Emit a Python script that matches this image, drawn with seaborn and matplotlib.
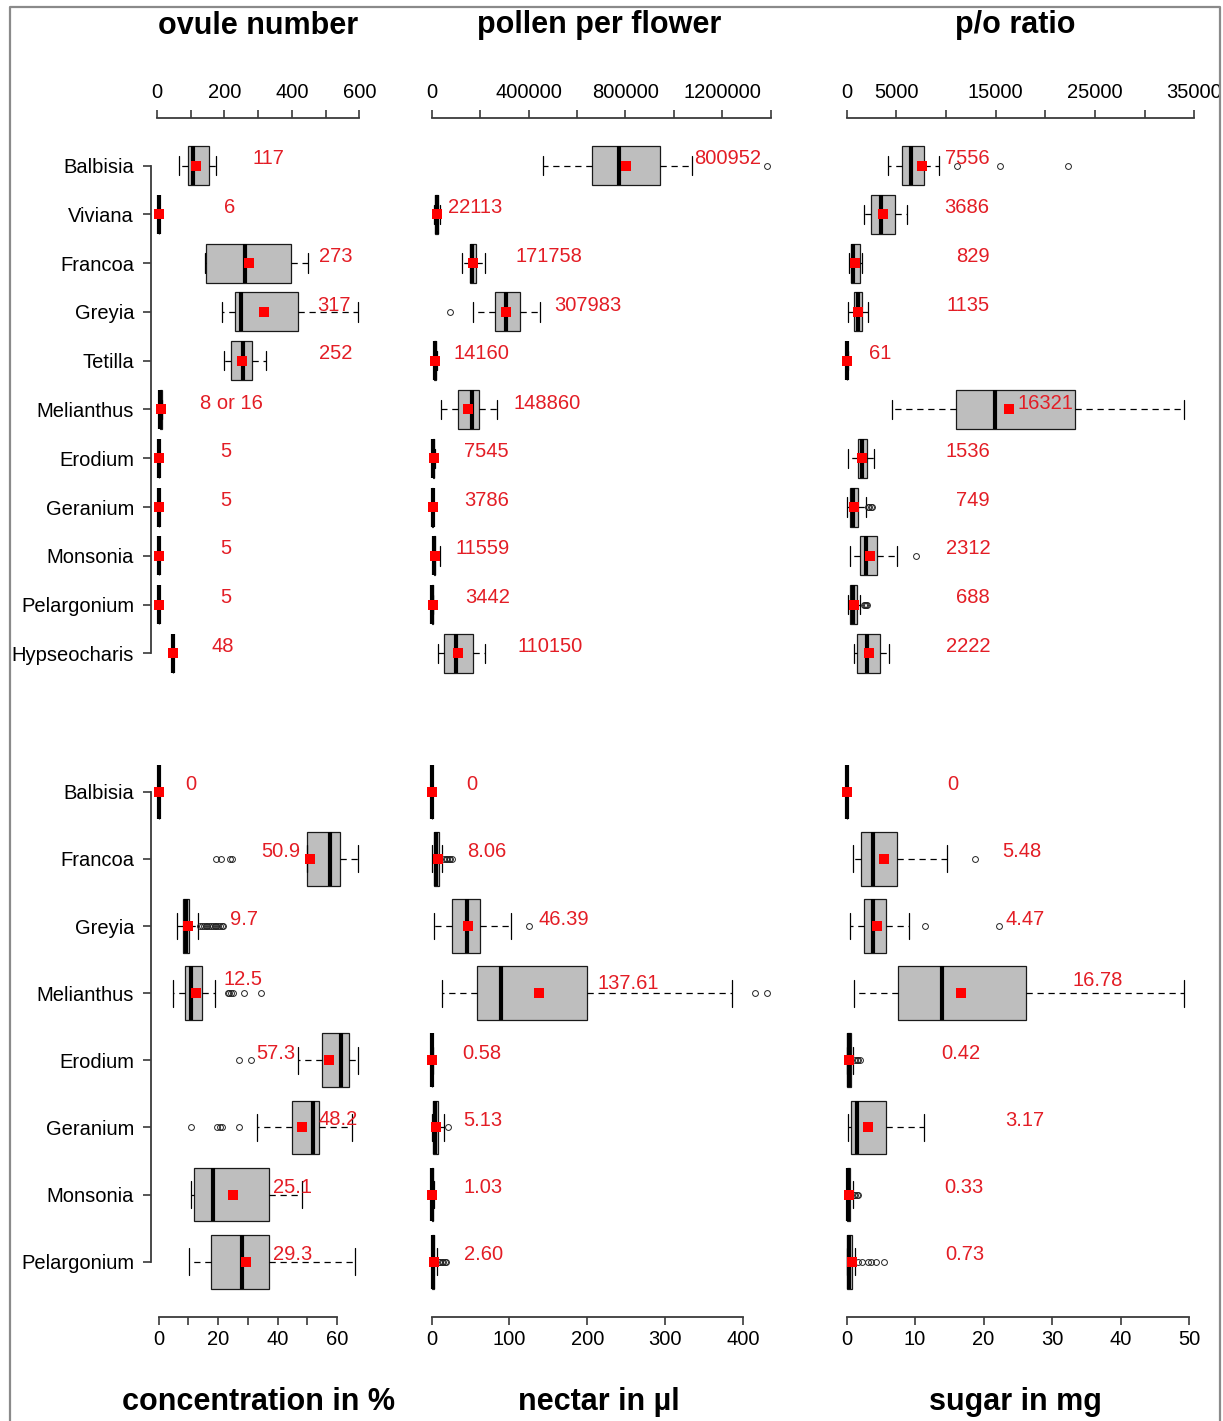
import numpy as np
import pandas as pd
import matplotlib
matplotlib.use("Agg")
import matplotlib.pyplot as plt
import seaborn as sns

sns.set_theme(style="white")
plt.rcParams["font.family"] = ["Liberation Sans", "DejaVu Sans"]

# ---------------------------------------------------------------- data
genera_top = ["Balbisia", "Viviana", "Francoa", "Greyia", "Tetilla", "Melianthus",
              "Erodium", "Geranium", "Monsonia", "Pelargonium", "Hypseocharis"]
genera_bottom = ["Balbisia", "Francoa", "Greyia", "Melianthus", "Erodium",
                 "Geranium", "Monsonia", "Pelargonium"]

# ovule number
ovule_q1 = [93, 6, 145, 230, 219, 8, 5, 5, 5, 5, 48]
ovule_med = [108, 6, 261, 250, 254, 8, 5, 5, 5, 5, 48]
ovule_q3 = [153, 6, 397, 417, 281, 16, 5, 5, 5, 5, 48]
ovule_lo = [65, 6, 143, 194, 200, 8, 5, 5, 5, 5, 48]
ovule_hi = [175, 6, 448, 596, 323, 16, 5, 5, 5, 5, 48]
ovule_out = [[], [], [], [], [], [], [], [], [], [], []]
ovule_mean = [117, 6, 273, 317, 252, 12, 5, 5, 5, 5, 48]
ovule_text = ["117", "6", "273", "317", "252", "8 or 16", "5", "5", "5", "5", "48"]

# pollen per flower
pollen_q1 = [661000, 15000, 158000, 262000, 11000, 107000, 5000, 2500, 8000, 2000, 51000]
pollen_med = [775000, 20000, 168000, 307000, 14000, 165000, 7000, 3500, 10000, 3200, 99000]
pollen_q3 = [943000, 27000, 182000, 363000, 17000, 194000, 10000, 5000, 14000, 4500, 169000]
pollen_lo = [460000, 10000, 127000, 172000, 8000, 37000, 2000, 1000, 4000, 1000, 27000]
pollen_hi = [1074000, 35000, 222000, 446000, 20000, 271000, 14000, 7000, 35000, 6000, 221000]
pollen_out = [[1385000], [], [], [75600], [], [], [], [], [], [], []]
pollen_mean = [800952, 22113, 171758, 307983, 14160, 148860, 7545, 3786, 11559, 3442, 110150]

# pollen / ovule ratio
po_q1 = [5600, 2450, 400, 700, 40, 11040, 1170, 360, 1310, 330, 1040]
po_med = [6440, 3490, 670, 1170, 60, 14960, 1540, 670, 1940, 600, 2080]
po_q3 = [7820, 4830, 1340, 1540, 80, 23020, 2040, 1110, 3020, 1000, 3380]
po_lo = [4130, 1710, 260, 160, 20, 4560, 160, 30, 360, 100, 770]
po_hi = [9290, 6070, 1540, 2110, 110, 33930, 2720, 1910, 5060, 1340, 4290]
po_out = [[11070, 15440, 22310], [], [], [], [], [], [], [2100, 2250, 2400, 2500],
          [6980], [1700, 1800, 1900, 2000], []]
po_mean = [7556, 3686, 829, 1135, 61, 16321, 1536, 749, 2312, 688, 2222]

# nectar sugar concentration (%)
conc_q1 = [0, 49.9, 8.1, 9.0, 55.0, 45.0, 12.0, 17.5]
conc_med = [0, 57.8, 9.1, 11.0, 61.3, 52.1, 18.4, 28.0]
conc_q3 = [0, 61.0, 10.1, 14.6, 64.1, 54.1, 37.0, 37.0]
conc_lo = [0, 49.9, 6.1, 4.9, 46.9, 33.0, 11.0, 10.1]
conc_hi = [0, 67.1, 13.1, 19.0, 67.1, 65.0, 48.1, 66.1]
conc_out = [[], [19.3, 20.9, 24.0, 24.8],
            [14.0, 14.6, 15.2, 15.8, 16.4, 17.0, 17.6, 18.2, 18.8, 19.4, 20.0, 20.6, 21.2, 21.8],
            [23.2, 23.8, 24.4, 25.1, 28.8, 34.5], [27.1, 31.0],
            [10.9, 19.5, 20.6, 21.4, 27.1], [], []]
conc_mean = [0, 50.9, 9.7, 12.5, 57.3, 48.2, 25.1, 29.3]
conc_text = ["0", "50.9", "9.7", "12.5", "57.3", "48.2", "25.1", "29.3"]

# nectar volume (µl)
nectar_q1 = [0, 3, 26.1, 57.9, 0.2, 2, 0.3, 0.5]
nectar_med = [0, 6, 45.9, 89.2, 0.4, 4, 0.8, 1.5]
nectar_q3 = [0, 9, 62.6, 200.3, 0.8, 8, 1.5, 3.5]
nectar_lo = [0, 1, 3.0, 13.7, 0, 0, 0, 0]
nectar_hi = [0, 13, 102, 386.5, 2, 16.3, 3, 7]
nectar_out = [[], [16, 18, 20, 22, 24, 26], [125.6], [416, 431], [], [21.4], [],
              [9, 11, 13, 15, 17, 19]]
nectar_mean = [0, 8.06, 46.39, 137.61, 0.58, 5.13, 1.03, 2.60]
nectar_text = ["0", "8.06", "46.39", "137.61", "0.58", "5.13", "1.03", "2.60"]

# sugar per flower (mg)
sugar_q1 = [0, 2.1, 2.5, 7.5, 0.1, 0.7, 0.1, 0.1]
sugar_med = [0, 3.9, 3.9, 13.9, 0.3, 1.6, 0.2, 0.4]
sugar_q3 = [0, 7.4, 5.8, 26.2, 0.6, 5.7, 0.5, 0.8]
sugar_lo = [0, 0.9, 0.5, 1.1, 0, 0.15, 0, 0]
sugar_hi = [0, 14.6, 9.1, 49.2, 1.0, 11.3, 0.9, 1.3]
sugar_out = [[], [18.8], [11.4, 22.3], [], [1.3, 1.5, 1.7, 1.9], [],
             [1.1, 1.3, 1.5, 1.7], [1.75, 2.3, 3.1, 3.6, 4.3, 5.5]]
sugar_mean = [0, 5.48, 4.47, 16.78, 0.42, 3.17, 0.33, 0.73]
sugar_text = ["0", "5.48", "4.47", "16.78", "0.42", "3.17", "0.33", "0.73"]

# --------------------------------------------------------- layout
# x position (data units) and vertical lift (points) of each mean label
ovule_lab_x = [330, 214, 529, 526, 529, 220, 205, 205, 205, 205, 196]
pollen_lab_x = [1224000, 179000, 485000, 646000, 204000, 476000, 224000, 228000,
                212000, 233000, 489000]
po_lab_x = [12110, 12110, 12720, 12210, 3350, 19970, 12210, 12720, 12210, 12720, 12210]
conc_lab_x = [10.9, 41.2, 28.7, 28.4, 39.5, 60.4, 44.9, 45.2]
nectar_lab_x = [51.9, 71.2, 169.4, 253, 64.4, 66.4, 66.4, 66.4]
sugar_lab_x = [15.5, 25.6, 26.0, 36.7, 16.7, 26.0, 17.1, 17.3]

top_lift = [5, 5, 5, 5, 5, 4, 5, 5, 5, 5, 5]
po_lift = [5, 5, 5, 5, 5, 4, 5, 5, 5, 5, 5]
conc_lift = [5, 5, 5, 10, 5, 6, 5, 5]
nectar_lift = [5, 5, 5, 7, 5, 5, 5, 5]
sugar_lift = [5, 5, 5, 9, 5, 5, 5, 5]

W, H = 1223, 1421
fig = plt.figure(figsize=(W / 100, H / 100), dpi=100)

AX_COLOR = "#3a3a3a"
TXT_RED = "#e31d25"
FS = 14.5


def rect(left, right, top, bottom):
    return [left / W, 1 - bottom / H, (right - left) / W, (bottom - top) / H]


cols = [(150.7, 366.0), (418.4, 780.2), (832.8, 1197.3)]
top_row = (118.3, 700.7)
bottom_row = (736.7, 1316.7)


def panel(col, row, cats, q1, med, q3, lo, hi, out, mean, text, lab_x, lift,
          xlim, ticks, ticklabels, title, show_names):
    on_top = row == "top"
    t, b = top_row if on_top else bottom_row
    ax = fig.add_axes(rect(cols[col][0], cols[col][1], t, b))
    n = len(cats)
    pos = np.arange(1, n + 1)
    stats = [dict(med=med[i], q1=q1[i], q3=q3[i], whislo=lo[i], whishi=hi[i],
                  fliers=out[i]) for i in range(n)]
    ax.bxp(stats, positions=pos, widths=0.8, orientation="horizontal",
           patch_artist=True, showfliers=True, capwidths=0.4,
           boxprops=dict(facecolor="#bebebe", edgecolor="#1a1a1a", linewidth=0.9),
           medianprops=dict(color="black", linewidth=3.0, solid_capstyle="butt"),
           whiskerprops=dict(color="black", linewidth=0.9, linestyle=(0, (5, 3.8))),
           capprops=dict(color="black", linewidth=0.9),
           flierprops=dict(marker="o", markerfacecolor="none",
                           markeredgecolor="#222222", markersize=4.2,
                           markeredgewidth=0.7))

    means = pd.DataFrame({"mean": mean, "pos": pos})
    sns.scatterplot(data=means, x="mean", y="pos", marker="s", color="red",
                    s=58, linewidth=0, zorder=5, legend=False, ax=ax)

    for i in range(n):
        ax.annotate(text[i], (lab_x[i], pos[i]), xytext=(0, lift[i]),
                    textcoords="offset points", ha="center", va="center",
                    color=TXT_RED, fontsize=FS, zorder=6)

    ax.set_xlim(*xlim)
    ax.set_ylim(n + (0.972 if on_top else 0.82), 1 - (0.972 if on_top else 0.82))
    ax.set_xlabel("")
    ax.set_ylabel("")
    ax.set_facecolor("none")

    for s in ax.spines.values():
        s.set_visible(False)
    xs = ax.spines["top" if on_top else "bottom"]
    xs.set_visible(True)
    xs.set_bounds(ticks[0], ticks[-1])
    xs.set_color(AX_COLOR)
    xs.set_linewidth(1.3)

    ax.set_xticks(ticks)
    ax.set_xticklabels(ticklabels)
    if on_top:
        ax.xaxis.tick_top()
        ax.tick_params(axis="x", top=True, bottom=False, labeltop=True,
                       labelbottom=False, direction="out", length=5.5, width=1.2,
                       color=AX_COLOR, pad=6, labelsize=FS, labelcolor="black")
    else:
        ax.tick_params(axis="x", bottom=True, top=False, direction="out",
                       length=5.5, width=1.2, color=AX_COLOR, pad=4,
                       labelsize=FS, labelcolor="black")

    if show_names:
        ls = ax.spines["left"]
        ls.set_visible(True)
        ls.set_bounds(1, n)
        ls.set_color(AX_COLOR)
        ls.set_linewidth(1.3)
        ax.set_yticks(pos)
        ax.set_yticklabels(cats)
        ax.tick_params(axis="y", left=True, direction="out", length=5.5, width=1.2,
                       color=AX_COLOR, pad=6.5, labelsize=FS, labelcolor="black")
    else:
        ax.set_yticks([])

    cx = (cols[col][0] + cols[col][1]) / 2 / W
    ty = 1 - (33.5 if on_top else 1410) / H
    fig.text(cx, ty, title, ha="center", va="baseline", fontsize=22,
             fontweight="bold", color="black")
    return ax


panel(0, "top", genera_top, ovule_q1, ovule_med, ovule_q3, ovule_lo, ovule_hi,
      ovule_out, ovule_mean, ovule_text, ovule_lab_x, top_lift,
      (-18.6, 619.6), [0, 100, 200, 300, 400, 500, 600],
      ["0", "", "200", "", "400", "", "600"], "ovule number", True)

panel(1, "top", genera_top, pollen_q1, pollen_med, pollen_q3, pollen_lo, pollen_hi,
      pollen_out, pollen_mean, [str(v) for v in pollen_mean], pollen_lab_x, top_lift,
      (-55000, 1440000), [0, 200000, 400000, 600000, 800000, 1000000, 1200000, 1400000],
      ["0", "", "400000", "", "800000", "", "1200000", ""], "pollen per flower", False)

panel(2, "top", genera_top, po_q1, po_med, po_q3, po_lo, po_hi,
      po_out, po_mean, [str(v) for v in po_mean], po_lab_x, po_lift,
      (-1400, 35300), [0, 5000, 10000, 15000, 20000, 25000, 30000, 35000],
      ["0", "5000", "", "15000", "", "25000", "", "35000"], "p/o ratio", False)

panel(0, "bottom", genera_bottom, conc_q1, conc_med, conc_q3, conc_lo, conc_hi,
      conc_out, conc_mean, conc_text, conc_lab_x, conc_lift,
      (-2.7, 69.8), [0, 10, 20, 30, 40, 50, 60],
      ["0", "", "20", "", "40", "", "60"], "concentration in %", True)

panel(1, "bottom", genera_bottom, nectar_q1, nectar_med, nectar_q3, nectar_lo, nectar_hi,
      nectar_out, nectar_mean, nectar_text, nectar_lab_x, nectar_lift,
      (-17, 448), [0, 100, 200, 300, 400],
      ["0", "100", "200", "300", "400"], "nectar in µl", False)

panel(2, "bottom", genera_bottom, sugar_q1, sugar_med, sugar_q3, sugar_lo, sugar_hi,
      sugar_out, sugar_mean, sugar_text, sugar_lab_x, sugar_lift,
      (-2, 51.2), [0, 10, 20, 30, 40, 50],
      ["0", "10", "20", "30", "40", "50"], "sugar in mg", False)

# thin grey frame around the figure (open at the bottom edge)
frame_x = [9.5 / W, 9.5 / W, 1220 / W, 1220 / W]
frame_y = [0, 1 - 7 / H, 1 - 7 / H, 0]
fig.add_artist(plt.Line2D(frame_x, frame_y, transform=fig.transFigure,
                          color="#8a8a8a", linewidth=1.6))

fig.savefig("out.png", dpi=100, facecolor="white")
